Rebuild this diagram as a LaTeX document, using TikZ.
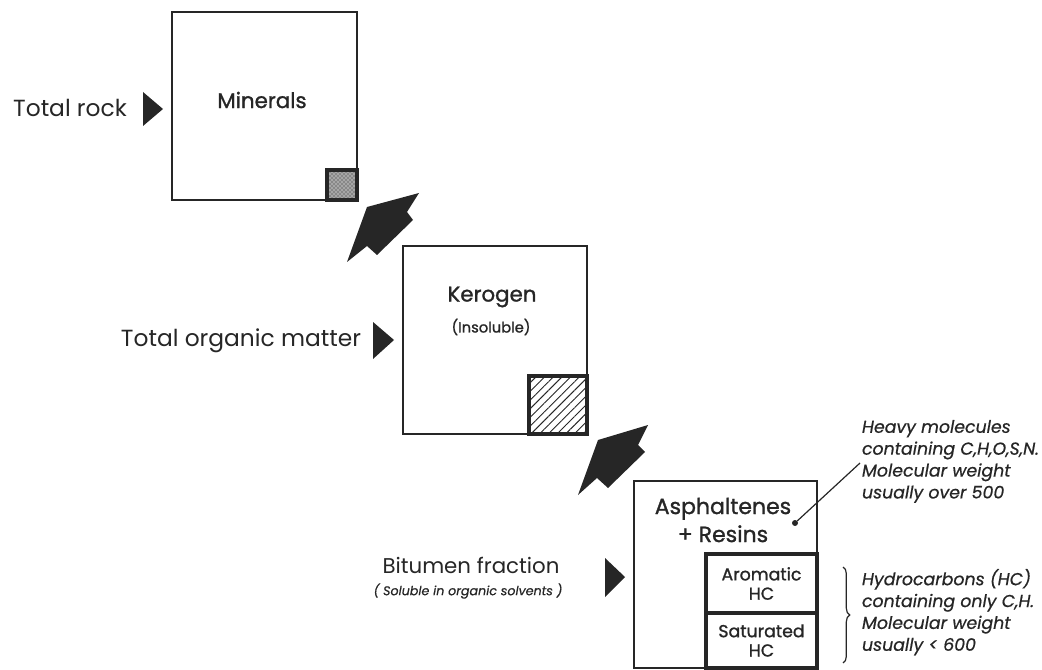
\documentclass[tikz,border=0pt]{standalone}
\usepackage{fontspec}
\setmainfont{Poppins}
\usetikzlibrary{patterns,patterns.meta,decorations.pathreplacing}
\definecolor{ink}{gray}{0.15}
\newcommand{\heavier}{\addfontfeature{FakeBold=1.2}}
\begin{document}
\begin{tikzpicture}[x=0.75pt,y=-0.75pt,
  every node/.style={outer sep=0pt,text=ink},
  bigbox/.style={draw=ink,line width=1.4pt,inner sep=0pt},
  smallbox/.style={draw=ink,line width=3pt,inner sep=0pt},
  lbl/.style={font=\fontsize{17.5}{20}\selectfont,inner sep=0pt},
  ttl/.style={font=\fontsize{16}{19}\selectfont\heavier,inner sep=0pt},
  sub/.style={font=\fontsize{11}{13}\selectfont\heavier,inner sep=0pt},
  inbox/.style={font=\fontsize{13}{14.5}\selectfont\heavier,align=center},
  note/.style={font=\itshape\fontsize{13}{16.4}\selectfont\addfontfeature{FakeBold=0.6},align=left,anchor=north west,inner sep=0pt},
  pointer/.style={fill=ink},
  fatarrow/.style={fill=ink}]
\useasboundingbox (0,0) rectangle (1042,670);

% boxes
\node[bigbox,minimum width=138.75pt,minimum height=141pt] (minbox) at (264.5,106) {};
\node[smallbox,line width=2.6pt,minimum size=22.5pt,anchor=south east,
      preaction={fill=gray!70},pattern=crosshatch dots,pattern color=ink] (minsq) at (minbox.south east) {};
\node[bigbox,minimum width=138pt,minimum height=141pt] (kerbox) at (495,340) {};
\node[smallbox,minimum size=43.5pt,anchor=south east,
      pattern={Lines[angle=45,distance=4.6pt,line width=0.7pt]},pattern color=ink] (kersq) at (kerbox.south east) {};
\node[bigbox,minimum width=137.25pt,minimum height=140.25pt] (aspbox) at (725.5,574.5) {};
\node[smallbox,inbox,minimum width=83.25pt,minimum height=41.25pt,anchor=south east] (satbox) at (aspbox.south east) {Saturated\\HC};
\node[smallbox,inbox,minimum width=83.25pt,minimum height=44.25pt,anchor=south east] (arobox) at (satbox.north east) {Aromatic\\HC};

% titles
\node[ttl] (mintxt) at (262,100) {Minerals};
\node[ttl] (kertxt) at (492,297) {Kerogen};
\node[sub] (instxt) at (491,327) {(Insoluble)};
\node[ttl,font=\fontsize{16.5}{21}\selectfont\heavier,align=center] (asptxt) at (723,520) {Asphaltenes\\+ Resins};

% left labels
\node[lbl] (rock) at (70,108) {Total rock};
\node[lbl] (tom) at (241,341) {Total organic matter};
\node[lbl,font=\fontsize{16}{19}\selectfont] (bit) at (471,565) {Bitumen fraction};
\node[inner sep=0pt,font=\itshape\fontsize{9.5}{11}\selectfont\addfontfeature{FakeBold=0.6}] (sol) at (468,591) {( Soluble in organic solvents )};

% pointer triangles
\fill[pointer] (143,92) -- (163,109) -- (143,126) -- cycle;
\fill[pointer] (373,322) -- (394,340) -- (373,359) -- cycle;
\fill[pointer] (605,558) -- (625,577) -- (605,597) -- cycle;

% fat arrows
\fill[fatarrow] (419,193) -- (367,207) -- (347,262) -- (367,246) -- (377,255) -- (413,220) -- (407,212) -- cycle;
\fill[fatarrow] (648,425) -- (598,440) -- (578,495) -- (597,478) -- (608,488) -- (645,452) -- (638,445) -- cycle;

% annotations
\node[note] (heavy) at (862,420) {Heavy molecules\\containing C,H,O,S,N.\\Molecular weight\\usually over 500};
\node[circle,fill=ink,inner sep=0pt,minimum size=4.5pt] (dot) at (795,523) {};
\coordinate (lead) at (860,463);
\draw[ink,line width=0.9pt] (dot) -- (lead);

\node[note] (hc) at (862,569) {Hydrocarbons (HC)\\containing only C,H.\\Molecular weight\\usually < 600};
\coordinate (brtop) at (843,567);
\coordinate (brbot) at (843,663);
\draw[ink,line width=0.9pt,decorate,decoration={brace,amplitude=5pt}] (brtop) -- (brbot);
\end{tikzpicture}
\end{document}
